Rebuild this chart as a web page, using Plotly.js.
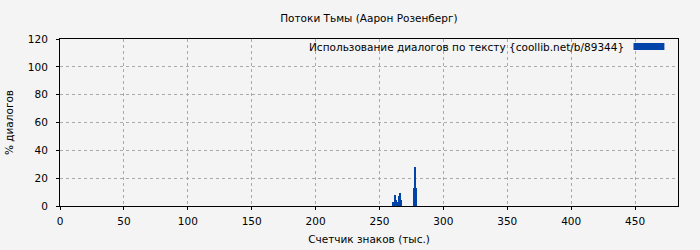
<!DOCTYPE html>
<html><head><meta charset="utf-8">
<script src="https://cdn.plot.ly/plotly-3.0.1.min.js"></script>
<style>html,body{margin:0;padding:0;background:#f4f4f4;}#c{width:700px;height:250px;}</style>
</head><body><div id="c"></div>
<script>
const chartTitle = "Потоки Тьмы (Аарон Розенберг)";
const xTitle = "Счетчик знаков (тыс.)";
const yTitle = "% диалогов";
const seriesName = "Использование диалогов по тексту {coollib.net/b/89344}";
const xValues = [261, 262, 263, 264, 265, 266, 267, 277, 278, 279];
const yValues = [3, 8, 4, 3, 7, 9.5, 4, 13, 28, 13];
const xTicks = [0, 50, 100, 150, 200, 250, 300, 350, 400, 450];
const yTicks = [0, 20, 40, 60, 80, 100, 120];
const barColor = "#0044aa";

const font = {family: "DejaVu Sans, sans-serif", size: 10.5, color: "#000"};
Plotly.newPlot("c", [{
  type: "bar", x: xValues, y: yValues, width: 0.9,
  marker: {color: barColor, line: {width: 0}}, name: seriesName, showlegend: false
}], {
  width: 700, height: 250,
  margin: {l: 60, r: 22, t: 39, b: 44},
  paper_bgcolor: "#f4f4f4", plot_bgcolor: "#f4f4f4",
  font: font, bargap: 0,
  title: {text: chartTitle, font: font, x: 0.527, xanchor: "center", y: 0.925, yanchor: "middle"},
  xaxis: {range: [0, 483.6], tickvals: xTicks, ticktext: xTicks.map(String),
    showline: true, mirror: true, linecolor: "#000", linewidth: 1,
    ticks: "outside", ticklen: 3, tickcolor: "#000", ticklabelstandoff: 2,
    showgrid: true, gridcolor: "#aaaaaa", griddash: "dot", gridwidth: 1, zeroline: false,
    title: {text: xTitle, font: font, standoff: 10}},
  yaxis: {range: [0, 120], tickvals: yTicks, ticktext: yTicks.map(String),
    showline: true, mirror: true, linecolor: "#000", linewidth: 1,
    ticks: "outside", ticklen: 3, tickcolor: "#000", ticklabelstandoff: 6,
    showgrid: true, gridcolor: "#aaaaaa", griddash: "dot", gridwidth: 1, zeroline: false,
    title: {text: yTitle, font: font, standoff: 12}},
  annotations: [{text: seriesName, xref: "paper", yref: "paper", x: 0.916, y: 0.955,
    xanchor: "right", yanchor: "middle", showarrow: false, font: font}],
  shapes: [{type: "rect", xref: "paper", yref: "paper", x0: 0.928, x1: 0.978, y0: 0.934, y1: 0.976,
    fillcolor: barColor, line: {width: 0}}]
}, {displayModeBar: false});
</script></body></html>
